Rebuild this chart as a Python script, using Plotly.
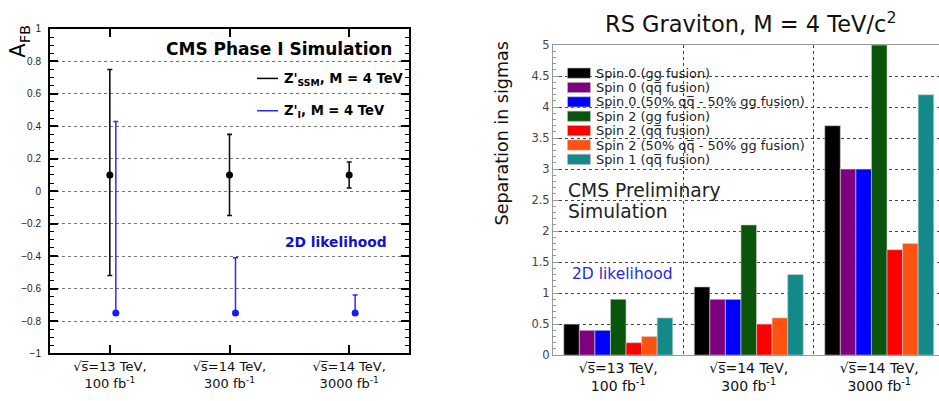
import plotly.graph_objects as go

W, H = 939, 401

# ---- shared scenario labels -------------------------------------------------
energies = ["13", "14", "14"]          # sqrt(s) in TeV
lumis = ["100", "300", "3000"]         # integrated luminosity in fb^-1

# ---- left panel: A_FB with uncertainty bands --------------------------------
afb_ssm = [0.10, 0.10, 0.10]
afb_ssm_hi = [0.75, 0.35, 0.18]
afb_ssm_lo = [-0.52, -0.15, 0.02]

afb_zi = [-0.75, -0.75, -0.75]
afb_zi_hi = [0.43, -0.41, -0.64]
afb_zi_lo = [-0.75, -0.75, -0.75]

afb_ticks = [-1, -0.8, -0.6, -0.4, -0.2, 0, 0.2, 0.4, 0.6, 0.8, 1]

# ---- right panel: spin separation ------------------------------------------
QBAR = "q\u0305"
hypotheses = [
    "Spin 0 (gg fusion)",
    f"Spin 0 (q{QBAR} fusion)",
    f"Spin 0 (50% q{QBAR} - 50% gg fusion)",
    "Spin 2 (gg fusion)",
    f"Spin 2 (q{QBAR} fusion)",
    f"Spin 2 (50% q{QBAR} - 50% gg fusion)",
    f"Spin 1 (q{QBAR} fusion)",
]
sep_spin0_gg = [0.5, 1.1, 3.7]
sep_spin0_qq = [0.4, 0.9, 3.0]
sep_spin0_mix = [0.4, 0.9, 3.0]
sep_spin2_gg = [0.9, 2.1, 5.0]
sep_spin2_qq = [0.2, 0.5, 1.7]
sep_spin2_mix = [0.3, 0.6, 1.8]
sep_spin1_qq = [0.6, 1.3, 4.2]
separations = [sep_spin0_gg, sep_spin0_qq, sep_spin0_mix, sep_spin2_gg,
               sep_spin2_qq, sep_spin2_mix, sep_spin1_qq]
hyp_colors = ["#000000", "#7f007f", "#0000ff", "#0b540b",
              "#ff0000", "#ff5212", "#13898a"]

sep_ticks = [0, 0.5, 1, 1.5, 2, 2.5, 3, 3.5, 4, 4.5, 5]

FONT = "DejaVu Sans"
SQRT_S = "√s\u0305"
scen_labels = [f"{SQRT_S}={e} TeV,<br>{l} fb<sup>-1</sup>" for e, l in zip(energies, lumis)]


def px(x):
    return x / W


def py(y):
    return 1 - y / H


def note(text, x, y, size, color, xanchor="left", angle=0, family=FONT):
    return dict(text=text, x=px(x), y=py(y), xref="paper", yref="paper",
                xanchor=xanchor, yanchor="middle", textangle=angle, showarrow=False,
                font=dict(family=family, size=size, color=color))


fig = go.Figure()

# left panel points (Z'_I slightly shifted so both bars are visible)
pos = list(range(len(scen_labels)))
fig.add_trace(go.Scatter(
    x=pos, y=afb_ssm, mode="markers",
    marker=dict(color="#000000", size=7),
    error_y=dict(type="data", symmetric=False,
                 array=[h - c for h, c in zip(afb_ssm_hi, afb_ssm)],
                 arrayminus=[c - l for c, l in zip(afb_ssm, afb_ssm_lo)],
                 color="#111111", thickness=1.6, width=2.5),
    xaxis="x", yaxis="y", showlegend=False, hoverinfo="skip"))
fig.add_trace(go.Scatter(
    x=[p + 0.05 for p in pos], y=afb_zi, mode="markers",
    marker=dict(color="#1a1aff", size=7),
    error_y=dict(type="data", symmetric=False,
                 array=[h - c for h, c in zip(afb_zi_hi, afb_zi)],
                 arrayminus=[c - l for c, l in zip(afb_zi, afb_zi_lo)],
                 color="#2a2aff", thickness=1.5, width=2.5),
    xaxis="x", yaxis="y", showlegend=False, hoverinfo="skip"))

# right panel bars
for name, vals, col in zip(hypotheses, separations, hyp_colors):
    fig.add_trace(go.Bar(
        x=scen_labels, y=vals, name=name,
        marker=dict(color=col, line=dict(color="rgba(200,210,200,0.9)", width=0.7)),
        xaxis="x2", yaxis="y2", showlegend=False, hoverinfo="skip"))

shapes = []
annotations = []

# left legend
shapes.append(dict(type="line", xref="paper", yref="paper",
                   x0=px(257), x1=px(278), y0=py(74), y1=py(74),
                   line=dict(color="#000000", width=1.5)))
shapes.append(dict(type="line", xref="paper", yref="paper",
                   x0=px(257), x1=px(278), y0=py(107.5), y1=py(107.5),
                   line=dict(color="#2a2aff", width=1.5)))
annotations += [
    note("<b>Z'<sub>SSM</sub>, M = 4 TeV</b>", 282, 75, 13.2, "#000"),
    note("<b>Z'<sub>I</sub>, M = 4 TeV</b>", 282, 108.5, 13.2, "#000"),
    note("<b>CMS Phase I Simulation</b>", 394, 44, 17, "#000", xanchor="right"),
    note("<b>2D likelihood</b>", 389, 243, 13.8, "#1212c8", xanchor="right"),
    note("A<sub>FB</sub>", 19, 36, 21, "#000", xanchor="center", angle=-90),
]

# right legend
row0, drow = 68.5, 14.9
for i, (name, col) in enumerate(zip(hypotheses, hyp_colors)):
    yc = row0 + i * drow
    shapes.append(dict(type="rect", xref="paper", yref="paper",
                       x0=px(567.5), x1=px(590.5), y0=py(yc - 5.3), y1=py(yc + 5.3),
                       fillcolor=col, line=dict(color="rgba(190,190,190,0.9)", width=0.7)))
    annotations.append(note(name, 594, yc, 12.9, "#222"))

annotations += [
    note("RS Graviton, M = 4 TeV/c<sup>2</sup>", 750, 16, 22.5, "#111", xanchor="center"),
    note("Separation in sigmas", 502, 131, 17.5, "#111", xanchor="center", angle=-90),
    note("CMS Preliminary", 566, 190, 18.7, "#222"),
    note("Simulation", 566, 212, 18.7, "#222"),
    note("2D likelihood", 570, 277, 15.5, "#2a2ae0"),
]

fig.update_layout(
    width=W, height=H, margin=dict(l=0, r=0, t=0, b=0),
    paper_bgcolor="white", plot_bgcolor="white",
    barmode="group", bargap=0.165, bargroupgap=0,
    shapes=shapes, annotations=annotations,
    xaxis=dict(
        domain=[px(50), px(409)], range=[-0.5, 2.5], anchor="y",
        tickvals=pos, ticktext=scen_labels,
        ticks="inside", ticklen=8, tickwidth=1.5, tickcolor="#000",
        showline=True, linewidth=2, linecolor="#000", mirror="allticks",
        showgrid=False, zeroline=False,
        tickfont=dict(family=FONT, size=13, color="#111"),
    ),
    yaxis=dict(
        domain=[py(359), py(22.7)], range=[-1, 1], anchor="x",
        tickvals=afb_ticks,
        ticks="inside", ticklen=8, tickwidth=1.5, tickcolor="#000",
        minor=dict(dtick=0.05, ticks="inside", ticklen=4, tickwidth=1, tickcolor="#000", showgrid=False),
        showline=True, linewidth=2, linecolor="#000", mirror="allticks",
        showgrid=True, gridcolor="#777", griddash="dot", gridwidth=1,
        zeroline=False, ticklabelstandoff=5,
        tickfont=dict(family="Liberation Sans", size=10, color="#222"),
    ),
    xaxis2=dict(
        domain=[px(553), 1], range=[-0.5, 2.458], type="category", anchor="y2",
        tickson="boundaries", ticks="",
        showline=True, linewidth=1, linecolor="#999", mirror=True,
        showgrid=True, gridcolor="#444", griddash="dot", gridwidth=1,
        zeroline=False,
        tickfont=dict(family=FONT, size=14, color="#111"),
    ),
    yaxis2=dict(
        domain=[py(360.7), py(39.5)], range=[0, 5], anchor="x2",
        tickvals=sep_ticks,
        ticks="inside", ticklen=6, tickwidth=1, tickcolor="#999",
        minor=dict(dtick=0.1, ticks="inside", ticklen=3, tickwidth=1, tickcolor="#999", showgrid=False),
        showline=True, linewidth=1, linecolor="#999", mirror=False,
        showgrid=True, gridcolor="#444", griddash="dot", gridwidth=1,
        zeroline=False,
        tickfont=dict(family=FONT, size=11.5, color="#444"),
    ),
)

fig.write_html("out.html")
